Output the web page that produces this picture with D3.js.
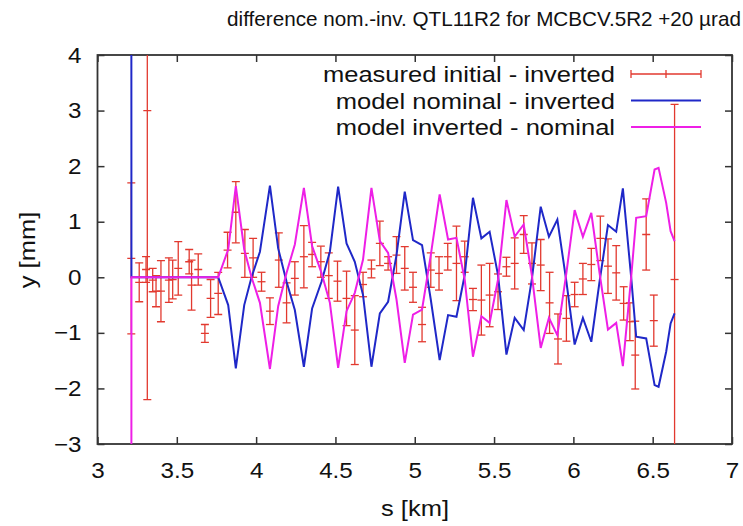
<!DOCTYPE html>
<html>
<head>
<meta charset="utf-8">
<script src="https://cdn.jsdelivr.net/npm/d3@7"></script>
<style>
body { margin: 0; background: #fff; }
text { font-family: "Liberation Sans", Arial, sans-serif; fill: #111; }
</style>
</head>
<body>
<svg id="chart" width="743" height="526"></svg>
<script>
// measured initial - inverted (position, value, error), all in km / mm
const sMeas = [3.213, 3.263, 3.306, 3.314, 3.348, 3.369, 3.40, 3.45, 3.474, 3.509, 3.578, 3.593, 3.635, 3.677,
    3.713, 3.761, 3.820, 3.872, 3.929, 3.981, 4.034, 4.087, 4.143, 4.192, 4.244, 4.301, 4.353, 4.408,
    4.458, 4.513, 4.570, 4.622, 4.674, 4.727, 4.78, 4.832, 4.885, 4.937, 4.989, 5.046, 5.101, 5.153,
    5.208, 5.263, 5.315, 5.367, 5.42, 5.472, 5.525, 5.578, 5.63, 5.687, 5.739, 5.794, 5.85, 5.903,
    5.956, 6.008, 6.06, 6.113, 6.17, 6.218, 6.27, 6.317, 6.356, 6.39, 6.459, 6.507, 6.638];
const yMeas = [0.34, -0.09, 0.14, 3.0, -0.05, -0.25, -0.25, -0.05, -0.04, 0.16, 0.28, -0.14, 0.14, -1.01,
    -0.38, -0.29, 0.49, 1.17, 0.43, 0.35, -0.08, -0.61, 0.31, -0.46, -0.02, 0.37, 0.41, 0.28,
    0.03, -0.07, -0.38, -0.95, -0.13, 0.15, 0.61, 0.25, 0.40, 0.16, -0.18, -0.85, 0.13, 0.07,
    0.37, 0.25, 0.37, -0.40, -0.41, -0.32, -0.26, 0.19, 0.25, 0.77, 0.25, 0.22, -0.46, -1.11,
    -0.74, -0.31, -0.03, 0.23, 0.70, 0.20, 0.08, -0.47, -0.80, -1.40, 0.77, -0.78, -0.04];
const errMeas = [1.36, 0.35, 0.23, 5.2, 0.21, 0.28, 0.55, 0.40, 0.35, 0.48, 0.22, 0.45, 0.28, 0.16,
    0.34, 0.38, 0.32, 0.55, 0.43, 0.35, 0.17, 0.24, 0.49, 0.36, 0.30, 0.56, 0.22, 0.28,
    0.41, 0.36, 0.49, 0.62, 0.22, 0.16, 0.40, 0.12, 0.33, 0.39, 0.27, 0.31, 0.31, 0.30,
    0.24, 0.67, 0.28, 0.20, 0.63, 0.57, 0.32, 0.17, 0.46, 0.34, 0.37, 0.46, 0.55, 0.45,
    0.41, 0.22, 0.28, 0.29, 0.40, 0.49, 0.49, 0.30, 0.34, 0.61, 0.64, 0.46, 3.15];

// model curves
const sModel = [3.213, 3.214, 3.761, 3.824, 3.872, 3.925, 3.971, 4.024, 4.087, 4.139, 4.192, 4.244, 4.301,
    4.353, 4.412, 4.465, 4.517, 4.570, 4.622, 4.674, 4.727, 4.78, 4.832, 4.885, 4.937, 4.989, 5.046,
    5.101, 5.157, 5.21, 5.263, 5.315, 5.367, 5.42, 5.472, 5.525, 5.578, 5.63, 5.687, 5.739, 5.794,
    5.846, 5.899, 5.956, 6.008, 6.06, 6.113, 6.165, 6.218, 6.27, 6.312, 6.365, 6.396, 6.459, 6.512,
    6.537, 6.585, 6.613, 6.638];
const yNomInv = [8, 0, 0, -0.50, -1.64, -0.50, 0.0, 0.46, 1.65, 0.52, -0.08, -0.59, -1.61,
    -0.56, -0.08, 0.46, 1.63, 0.61, 0.28, -0.32, -1.61, -0.65, -0.44, 0.40, 1.54, 0.67, 0.58,
    -0.40, -1.49, -0.68, -0.71, 0.04, 1.43, 0.70, 0.82, 0.04, -1.39, -0.73, -0.95, -0.02, 1.27,
    0.73, 1.04, -0.08, -1.21, -0.73, -1.16, -0.08, 0.94, 0.82, 1.60, -0.02, -1.07, -1.10, -1.94,
    -1.97, -1.34, -0.83, -0.65];
const yInvNom = [-8, 0, 0, 0.50, 1.64, 0.50, 0.0, -0.46, -1.65, -0.52, 0.08, 0.59, 1.61,
    0.56, 0.08, -0.46, -1.63, -0.61, -0.28, 0.32, 1.61, 0.65, 0.44, -0.40, -1.54, -0.67, -0.58,
    0.40, 1.49, 0.68, 0.71, -0.04, -1.43, -0.70, -0.82, -0.04, 1.39, 0.73, 0.95, 0.02, -1.27,
    -0.73, -1.04, 0.08, 1.21, 0.73, 1.16, 0.08, -0.94, -0.82, -1.60, 0.02, 1.07, 1.10, 1.94,
    1.97, 1.34, 0.83, 0.65];

const xTicks = [3, 3.5, 4, 4.5, 5, 5.5, 6, 6.5, 7];
const yTicks = [-3, -2, -1, 0, 1, 2, 3, 4];
const legendLabels = ["measured initial - inverted", "model nominal - inverted", "model inverted - nominal"];

const RED = "#e2392f", BLUE = "#1f28c8", MAGENTA = "#ee1fe6";
// the original lettering is a little wider than Liberation Sans
const STRETCH = 1.16;

const svg = d3.select("#chart");
const plotLeft = 97.5, plotRight = 732, plotTop = 55, plotBottom = 444;

const x = d3.scaleLinear().domain([3, 7]).range([plotLeft, plotRight]);
const y = d3.scaleLinear().domain([-3, 4]).range([plotBottom, plotTop]);

svg.append("clipPath").attr("id", "plotClip")
    .append("rect")
    .attr("x", plotLeft).attr("y", plotTop)
    .attr("width", plotRight - plotLeft).attr("height", plotBottom - plotTop);

// stretch a text horizontally around its anchor point
function stretch(sel, ax, ay, sx) {
    sel.attr("transform", "translate(" + ax + "," + ay + ") scale(" + sx + ",1)");
}

// title
svg.append("text")
    .attr("text-anchor", "middle")
    .style("font-size", "21px")
    .text("difference nom.-inv. QTL11R2 for MCBCV.5R2 +20 \u00b5rad")
    .call(stretch, 484, 26, 0.985);

// axes, ticks pointing inward on all four sides
function styleAxis(g) {
    g.select(".domain").remove();
    g.selectAll(".tick line").attr("stroke", "#333").attr("stroke-width", 1.5);
    g.selectAll(".tick text").style("font-size", "22px").attr("fill", "#111");
}

svg.append("g")
    .attr("transform", "translate(0," + plotBottom + ")")
    .call(d3.axisBottom(x).tickValues(xTicks).tickFormat(d3.format("")).tickSizeInner(-7).tickSizeOuter(0).tickPadding(18))
    .call(styleAxis)
    .selectAll(".tick text")
    .attr("transform", "scale(1.1,1)");
svg.append("g")
    .attr("transform", "translate(0," + plotTop + ")")
    .call(d3.axisTop(x).tickValues(xTicks).tickFormat("").tickSizeInner(-7).tickSizeOuter(0))
    .call(styleAxis);
svg.append("g")
    .attr("transform", "translate(" + plotLeft + ",0)")
    .call(d3.axisLeft(y).tickValues(yTicks).tickFormat(d3.format("")).tickSizeInner(-7).tickSizeOuter(0).tickPadding(0))
    .call(styleAxis)
    .selectAll(".tick text")
    .attr("transform", "translate(-16,0) scale(1.1,1)");
svg.append("g")
    .attr("transform", "translate(" + plotRight + ",0)")
    .call(d3.axisRight(y).tickValues(yTicks).tickFormat("").tickSizeInner(-7).tickSizeOuter(0))
    .call(styleAxis);

svg.append("rect")
    .attr("x", plotLeft).attr("y", plotTop)
    .attr("width", plotRight - plotLeft).attr("height", plotBottom - plotTop)
    .attr("fill", "none").attr("stroke", "#333").attr("stroke-width", 1.8);

// axis labels
svg.append("text")
    .attr("text-anchor", "middle")
    .style("font-size", "22px")
    .text("s [km]")
    .call(stretch, 415, 516, STRETCH);
svg.append("text")
    .attr("transform", "translate(35,250) rotate(-90) scale(" + STRETCH + ",1)")
    .attr("text-anchor", "middle")
    .style("font-size", "22px")
    .text("y [mm]");

// data
const plot = svg.append("g").attr("clip-path", "url(#plotClip)");

const meas = sMeas.map(function (s, i) { return {s: s, v: yMeas[i], e: errMeas[i]}; });
const bars = plot.append("g")
    .attr("stroke", RED).attr("stroke-width", 1.3).attr("fill", "none")
    .selectAll("g").data(meas).enter().append("g");
bars.append("line")
    .attr("x1", d => x(d.s)).attr("x2", d => x(d.s))
    .attr("y1", d => y(d.v - d.e)).attr("y2", d => y(d.v + d.e));
bars.append("line")
    .attr("x1", d => x(d.s) - 4).attr("x2", d => x(d.s) + 4)
    .attr("y1", d => y(d.v + d.e)).attr("y2", d => y(d.v + d.e));
bars.append("line")
    .attr("x1", d => x(d.s) - 4).attr("x2", d => x(d.s) + 4)
    .attr("y1", d => y(d.v - d.e)).attr("y2", d => y(d.v - d.e));
bars.append("line")
    .attr("x1", d => x(d.s) - 4).attr("x2", d => x(d.s) + 4)
    .attr("y1", d => y(d.v)).attr("y2", d => y(d.v));

function drawModel(vals, color) {
    let line = d3.line()
        .x((d, i) => x(sModel[i]))
        .y(d => y(d));
    plot.append("path")
        .datum(vals)
        .attr("d", line)
        .attr("fill", "none")
        .attr("stroke", color)
        .attr("stroke-width", 2)
        .attr("stroke-linejoin", "miter");
}
drawModel(yNomInv, BLUE);
drawModel(yInvNom, MAGENTA);

// legend
const legX1 = 631, legX2 = 701, legText = 615;
const legY = [74, 100.5, 127];
const leg = svg.append("g");
legendLabels.forEach(function (lab, i) {
    leg.append("text")
        .attr("text-anchor", "end")
        .style("font-size", "22px")
        .text(lab)
        .call(stretch, legText, legY[i] + 8, STRETCH);
});
leg.append("line")
    .attr("x1", legX1).attr("x2", legX2).attr("y1", legY[0]).attr("y2", legY[0])
    .attr("stroke", RED).attr("stroke-width", 1.3);
[legX1, (legX1 + legX2) / 2, legX2].forEach(function (xx) {
    leg.append("line")
        .attr("x1", xx).attr("x2", xx).attr("y1", legY[0] - 4).attr("y2", legY[0] + 4)
        .attr("stroke", RED).attr("stroke-width", 1.3);
});
leg.append("line")
    .attr("x1", legX1).attr("x2", legX2).attr("y1", legY[1]).attr("y2", legY[1])
    .attr("stroke", BLUE).attr("stroke-width", 2);
leg.append("line")
    .attr("x1", legX1).attr("x2", legX2).attr("y1", legY[2]).attr("y2", legY[2])
    .attr("stroke", MAGENTA).attr("stroke-width", 2);
</script>
</body>
</html>
